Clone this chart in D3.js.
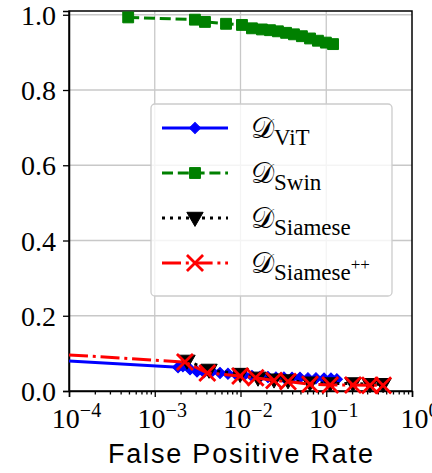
<!DOCTYPE html>
<html>
  <head>
    <meta charset="utf-8">
    <title>FPR chart</title>
    <script type="text/javascript" src="https://d3js.org/d3.v7.min.js"></script>
    <style>
      body { margin: 0; background: #fff; }
      .serif { font-family: "Liberation Serif", serif; }
    </style>
  </head>
  <body>
    <div id="chart"></div>
    <script type="text/javascript">
        // values
        var vitFpr = [1e-4, 1.87e-3, 2.13e-3, 2.58e-3, 3.11e-3, 3.75e-3, 4.66e-3, 5.77e-3, 7.14e-3, 8.87e-3,
                      0.011, 0.0136, 0.0169, 0.0209, 0.0259, 0.0321, 0.0399, 0.0494, 0.0612, 0.0759, 0.0942, 0.1135, 0.133];
        var vitVal = [0.080, 0.063, 0.066, 0.058, 0.052, 0.050, 0.052, 0.048, 0.046, 0.044,
                      0.042, 0.040, 0.038, 0.037, 0.036, 0.036, 0.035, 0.035, 0.034, 0.034, 0.033, 0.033, 0.031];

        var swinFpr = [4.9e-4, 2.94e-3, 3.85e-3, 6.78e-3, 0.0104, 0.0136, 0.0178, 0.0221, 0.0273, 0.034,
                       0.042, 0.052, 0.0647, 0.080, 0.099, 0.12];
        var swinVal = [0.993, 0.987, 0.981, 0.976, 0.973, 0.964, 0.961, 0.959, 0.956, 0.952,
                       0.948, 0.943, 0.937, 0.931, 0.926, 0.922];

        var siamFpr = [2.38e-3, 4.3e-3, 9.9e-3, 0.016, 0.0246, 0.0358, 0.0646, 0.111, 0.205, 0.324, 0.46];
        var siamVal = [0.080, 0.056, 0.045, 0.035, 0.030, 0.028, 0.022, 0.020, 0.020, 0.018, 0.018];

        var siamPPFpr = [1e-4, 2.25e-3, 4.1e-3, 9.9e-3, 0.015, 0.0246, 0.0358, 0.0646, 0.111, 0.205, 0.324, 0.46];
        var siamPPVal = [0.096, 0.077, 0.048, 0.040, 0.035, 0.028, 0.025, 0.018, 0.016, 0.016, 0.015, 0.015];

        var xMajor = [1e-4, 1e-3, 1e-2, 1e-1, 1];
        var xExp = ["\u22124", "\u22123", "\u22122", "\u22121", "0"];
        var yTicks = [0.0, 0.2, 0.4, 0.6, 0.8, 1.0];

        var series = [
            {name: "ViT", sup: "", fpr: vitFpr, val: vitVal, color: "#0000ff", dash: null, marker: "diamond"},
            {name: "Swin", sup: "", fpr: swinFpr, val: swinVal, color: "#008000", dash: "11,4.8", marker: "square"},
            {name: "Siamese", sup: "", fpr: siamFpr, val: siamVal, color: "#000000", dash: "3,5", marker: "tri"},
            {name: "Siamese", sup: "++", fpr: siamPPFpr, val: siamPPVal, color: "#ff0000", dash: "19,4.8,3,4.8", marker: "x"}
        ];

        var width = 432, height = 473;
        var margin = {top: 11, right: 20, bottom: 82, left: 69};

        var svg = d3.select("#chart").append("svg")
            .attr("width", width)
            .attr("height", height)
            .style("background", "#fff");

        var x = d3.scaleLog().domain([1e-4, 1]).range([margin.left, width - margin.right]);
        var y = d3.scaleLinear().domain([0, 1.01]).range([height - margin.bottom, margin.top]);

        var x0 = margin.left, x1 = width - margin.right, y0 = height - margin.bottom, y1 = margin.top;

        svg.append("clipPath").attr("id", "plotclip")
            .append("rect")
            .attr("x", x0).attr("y", y1 - 10).attr("width", x1 - x0).attr("height", y0 - y1 + 20);

        // grid
        var grid = svg.append("g").attr("stroke", "#c8c8c8").attr("stroke-width", 1.3);
        grid.selectAll(".gx").data(xMajor.slice(1, -1)).enter().append("line")
            .attr("x1", d => x(d)).attr("x2", d => x(d)).attr("y1", y0).attr("y2", y1);
        grid.selectAll(".gy").data(yTicks.slice(1)).enter().append("line")
            .attr("x1", x0).attr("x2", x1).attr("y1", d => y(d)).attr("y2", d => y(d));

        // axes
        var minor = [];
        for (var e = -4; e < 0; e++) {
            for (var m = 2; m < 10; m++) minor.push(m * Math.pow(10, e));
        }

        var xAxis = svg.append("g")
            .attr("transform", "translate(0," + y0 + ")")
            .call(d3.axisBottom(x).tickValues(xMajor).tickSize(6).tickPadding(8).tickFormat(""));
        svg.append("g")
            .attr("transform", "translate(0," + y0 + ")")
            .call(d3.axisBottom(x).tickValues(minor).tickSize(3.5).tickFormat(""))
            .select(".domain").remove();

        xAxis.attr("font-family", null);
        xAxis.selectAll(".tick").each(function(d, i) {
            var t = d3.select(this).select("text")
                .attr("class", "serif")
                .attr("y", 37)
                .attr("dy", 0)
                .style("font-size", "28px")
                .attr("fill", "#000")
                .attr("text-anchor", "middle")
                .attr("dx", "7");
            t.append("tspan").text("10");
            t.append("tspan").attr("dy", -11).style("font-size", "20px").text(xExp[i]);
        });

        var yAxis = svg.append("g")
            .attr("transform", "translate(" + x0 + ",0)")
            .call(d3.axisLeft(y).tickValues(yTicks).tickSize(6).tickPadding(7).tickFormat(d3.format(".1f")));
        yAxis.attr("font-family", null);
        yAxis.selectAll("text")
            .attr("class", "serif")
            .style("font-size", "28px")
            .attr("fill", "#000")
            .attr("dy", "0.34em");

        svg.selectAll(".tick line").attr("stroke", "#000").attr("stroke-width", 1.3);
        svg.selectAll(".domain").attr("stroke", "#000").attr("stroke-width", 1.5);

        // frame
        svg.append("rect")
            .attr("x", x0).attr("y", y1).attr("width", x1 - x0).attr("height", y0 - y1)
            .attr("fill", "none").attr("stroke", "#000").attr("stroke-width", 1.5);

        function markerPath(kind) {
            if (kind == "diamond") return d3.symbol(d3.symbolSquare, 62)();
            if (kind == "square") return d3.symbol(d3.symbolSquare, 118)();
            if (kind == "tri") return d3.symbol(d3.symbolTriangle, 115)();
            return d3.symbol(d3.symbolTimes, 170)();
        }
        function markerTransform(kind, px, py) {
            if (kind == "diamond") return "translate(" + px + "," + py + ") rotate(45)";
            if (kind == "tri") return "translate(" + px + "," + (py - 1) + ") rotate(180)";
            return "translate(" + px + "," + py + ")";
        }
        function drawMarker(g, kind, color, px, py) {
            var p = g.append("path")
                .attr("d", markerPath(kind))
                .attr("transform", markerTransform(kind, px, py));
            if (kind == "x") {
                p.attr("fill", "none").attr("stroke", color).attr("stroke-width", 2.8);
            } else {
                p.attr("fill", color).attr("stroke", color).attr("stroke-width", 1);
            }
        }

        var plot = svg.append("g").attr("clip-path", "url(#plotclip)");
        var line = d3.line().x(d => x(d[0])).y(d => y(d[1]));

        series.forEach(function(s) {
            var pts = s.fpr.map((f, i) => [f, s.val[i]]);
            var g = plot.append("g");
            g.append("path")
                .datum(pts)
                .attr("d", line)
                .attr("fill", "none")
                .attr("stroke", s.color)
                .attr("stroke-width", 3)
                .attr("stroke-dasharray", s.dash);
            pts.forEach(function(p, i) {
                if (s.fpr[i] <= 1e-4) return;
                drawMarker(g, s.marker, s.color, x(p[0]), y(p[1]));
            });
        });

        // legend
        var leg = svg.append("g");
        leg.append("rect")
            .attr("x", 151).attr("y", 104).attr("width", 241).attr("height", 192)
            .attr("rx", 4)
            .attr("fill", "#fff").attr("fill-opacity", 0.8)
            .attr("stroke", "#cccccc").attr("stroke-width", 1.3);

        series.forEach(function(s, i) {
            var cy = 128 + i * 45;
            leg.append("line")
                .attr("x1", 162).attr("x2", 228).attr("y1", cy).attr("y2", cy)
                .attr("stroke", s.color).attr("stroke-width", 3)
                .attr("stroke-dasharray", s.dash);
            drawMarker(leg, s.marker, s.color, 195, cy);
            var t = leg.append("text")
                .attr("x", 251).attr("y", cy + 10)
                .attr("fill", "#000");
            t.append("tspan").style("font-family", "'DejaVu Serif', serif")
                .style("font-size", "29px").text("\uD835\uDC9F");
            t.append("tspan").attr("class", "serif").attr("dy", 7)
                .style("font-size", "23px").text(s.name);
            if (s.sup) {
                t.append("tspan").attr("class", "serif").attr("dy", -10)
                    .style("font-size", "17px").text(s.sup);
            }
        });

        // axis label
        svg.append("text")
            .attr("x", (x0 + x1) / 2)
            .attr("y", 463)
            .attr("text-anchor", "middle")
            .style("font-family", "'Liberation Sans', Arial, sans-serif")
            .style("font-size", "27px")
            .attr("textLength", 265)
            .attr("lengthAdjust", "spacing")
            .text("False Positive Rate");
    </script>
  </body>
</html>
